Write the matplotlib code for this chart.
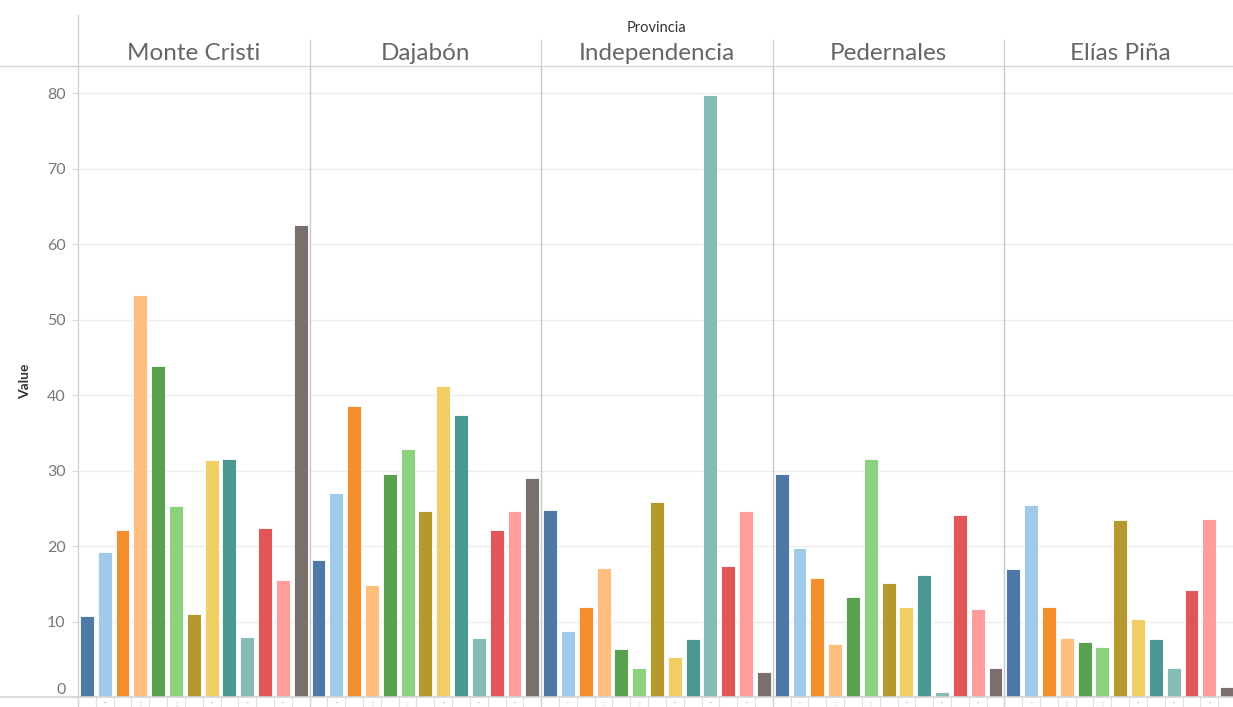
import matplotlib
matplotlib.use("Agg")
import matplotlib.pyplot as plt
from matplotlib.lines import Line2D
import numpy as np

plt.rcParams['font.family'] = ['Lato', 'DejaVu Sans']

provinces = ["Monte Cristi", "Dajabón", "Independencia", "Pedernales", "Elías Piña"]
colors = ["#4E79A7", "#A0CBE8", "#F28E2B", "#FFBE7D", "#59A14F", "#8CD17D", "#B6992D",
          "#F1CE63", "#499894", "#86BCB6", "#E15759", "#FF9D9A", "#79706E"]

monte_cristi = [10.7, 19.2, 22.1, 53.2, 43.8, 25.3, 11.0, 31.4, 31.5, 8.0, 22.4, 15.5, 62.6]
dajabon = [18.1, 27.0, 38.6, 14.9, 29.5, 32.9, 24.6, 41.2, 37.3, 7.8, 22.1, 24.6, 29.0]
independencia = [24.8, 8.7, 11.9, 17.1, 6.3, 3.8, 25.8, 5.3, 7.7, 79.7, 17.3, 24.6, 3.3]
pedernales = [29.5, 19.8, 15.7, 7.0, 13.2, 31.5, 15.1, 11.9, 16.1, 0.6, 24.1, 11.7, 3.9]
elias_pina = [16.9, 25.4, 11.9, 7.8, 7.3, 6.6, 23.5, 10.4, 7.7, 3.8, 14.2, 23.6, 1.3]
series = [monte_cristi, dajabon, independencia, pedernales, elias_pina]

yticks = [0, 10, 20, 30, 40, 50, 60, 70, 80]
# small truncated category labels under alternate bars
xlabels = ["", "·", "", ":", "", ":", "", "·", "", "·", "", "·", ""]

W, H = 1233, 707
fig = plt.figure(figsize=(W / 100, H / 100), dpi=100)

def fx(px):
    return px / W

def fy(py):
    return 1 - py / H

left, right, top, bottom = 78, 1236, 66, 697
ax = fig.add_axes([fx(left), fy(bottom), fx(right - left), (bottom - top) / H])

n = len(colors)
for p, vals in enumerate(series):
    xs = np.arange(n) + p * n + 0.5
    ax.bar(xs, vals, width=0.78, color=colors, edgecolor="white", linewidth=0.6, zorder=3)

ax.set_xlim(0, n * len(provinces))
ax.set_ylim(0, 83.6)

ax.set_yticks(yticks)
ax.set_yticklabels([str(t) for t in yticks])
ax.tick_params(axis='y', length=4, color="#d9d9d9", labelcolor="#777777", labelsize=11.5, pad=5)
for lab in ax.get_yticklabels():
    if lab.get_text() == "0":
        lab.set_verticalalignment("bottom")
        lab.set_y(0.3)
ax.yaxis.grid(True, color="#ececec", linewidth=1.0, zorder=0)

# x tick marks at slot boundaries, tiny labels under bars
ax.set_xticks(np.arange(0, n * len(provinces) + 1), minor=True)
ax.tick_params(axis='x', which='minor', length=9, color="#e0e0e0", width=0.8)
major_pos = []
major_lab = []
for p in range(len(provinces)):
    for i in range(n):
        major_pos.append(p * n + i + 0.5)
        major_lab.append(xlabels[i])
ax.set_xticks(major_pos)
ax.set_xticklabels(major_lab, fontsize=5, color="#888888")
ax.tick_params(axis='x', which='major', length=0, pad=2)

for s in ["top", "right", "left", "bottom"]:
    ax.spines[s].set_visible(False)

ax.set_ylabel("Value", fontsize=10, color="#333333", fontweight="bold")
ax.yaxis.set_label_coords(-(78 - 25) / (right - left), (bottom - 381) / (bottom - top))
ax.yaxis.label.set_verticalalignment("center")

# panel separators inside plot
for p in range(1, len(provinces)):
    ax.axvline(p * n, color="#c8c8c8", linewidth=1.0, zorder=4)

# figure-level lines (header and frame)
line_c = "#d4d4d4"
fig.add_artist(Line2D([fx(0), fx(W)], [fy(66), fy(66)], color=line_c, linewidth=1.0))
fig.add_artist(Line2D([fx(0), fx(W)], [fy(697), fy(697)], color=line_c, linewidth=1.2))
fig.add_artist(Line2D([fx(78), fx(78)], [fy(15), fy(707)], color=line_c, linewidth=1.0))
panel_w = (right - left) / len(provinces)
for p in range(1, len(provinces)):
    xpx = left + p * panel_w
    fig.add_artist(Line2D([fx(xpx), fx(xpx)], [fy(40), fy(66)], color=line_c, linewidth=1.0))
    fig.add_artist(Line2D([fx(xpx), fx(xpx)], [fy(697), fy(707)], color=line_c, linewidth=1.0))

# header texts
fig.text(fx((left + right) / 2), fy(28), "Provincia", ha="center", va="center",
         fontsize=10.5, color="#333333")
for p, name in enumerate(provinces):
    cx = left + (p + 0.5) * panel_w
    fig.text(fx(cx), fy(54), name, ha="center", va="center", fontsize=17.5,
             color="#666666")

fig.savefig("out.png", dpi=100)
